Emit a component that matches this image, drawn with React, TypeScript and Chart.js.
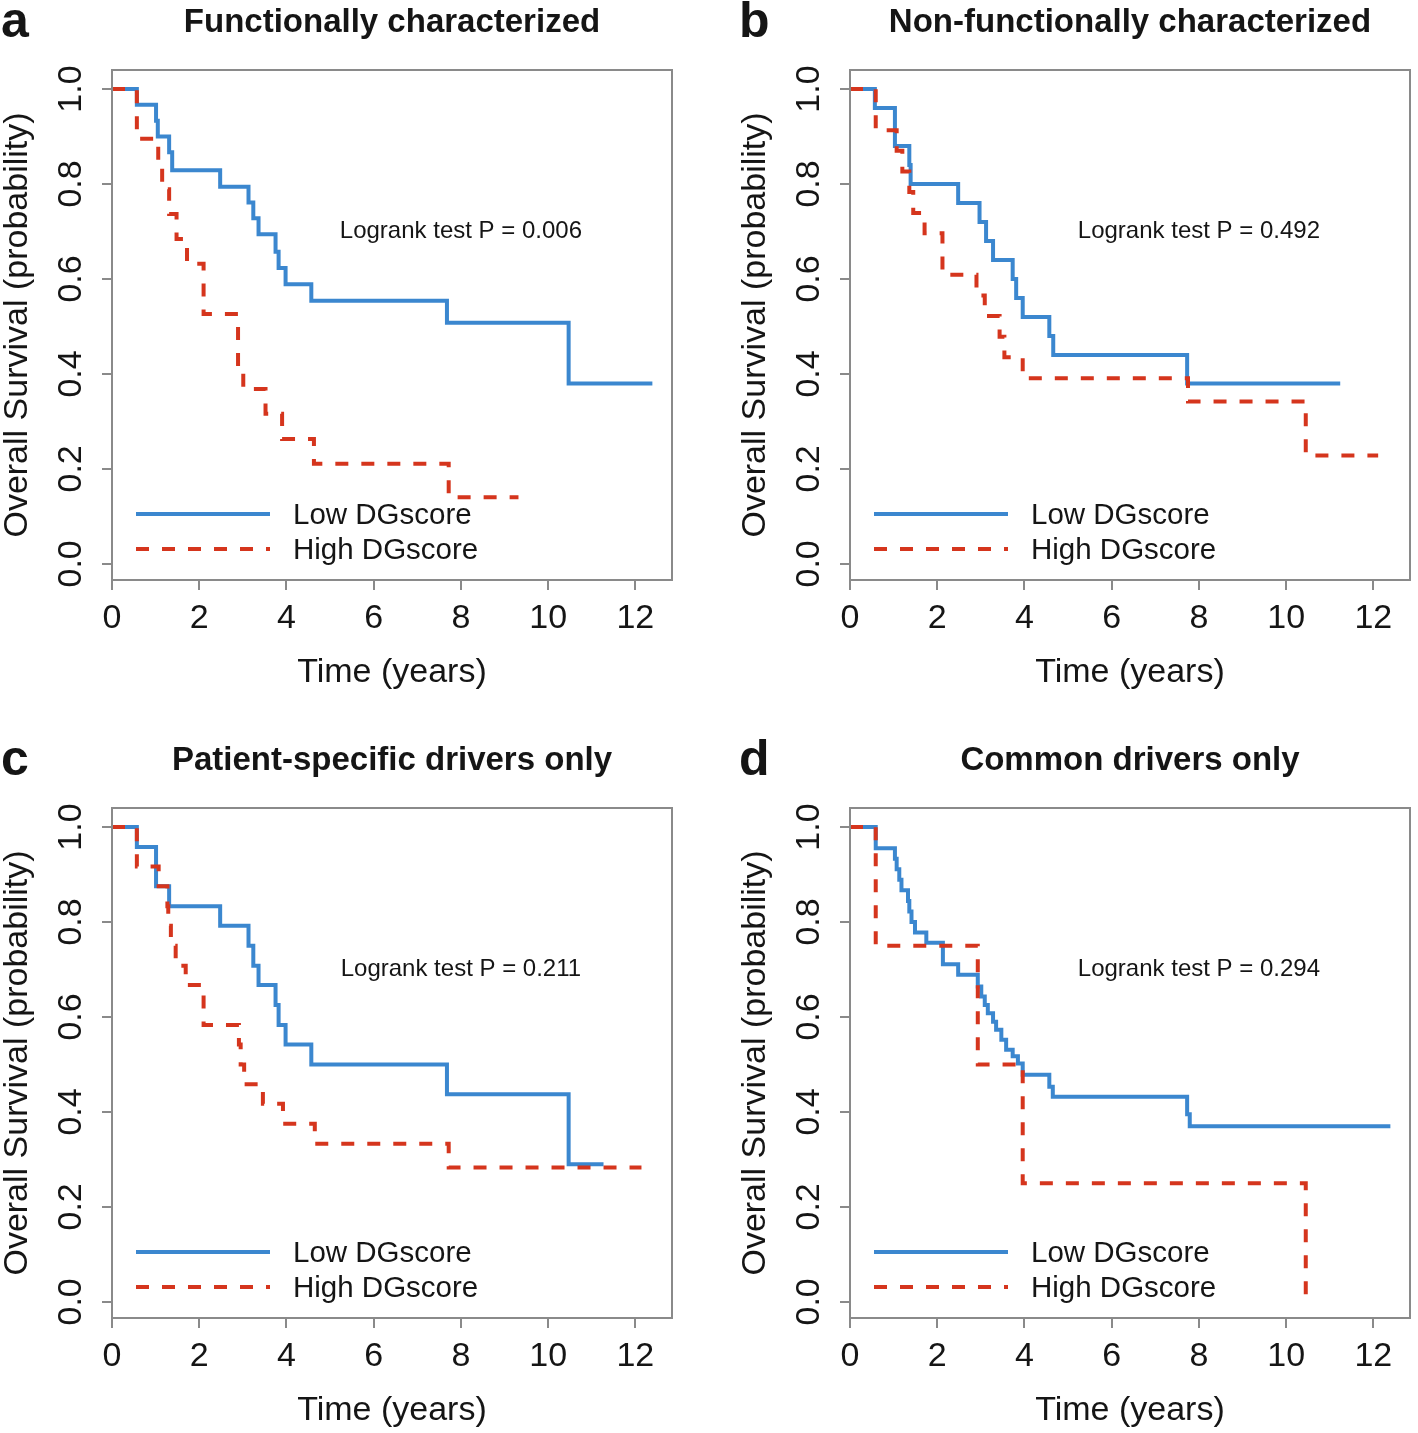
import React, { useEffect, useRef } from "react";
import { Chart, registerables } from "chart.js";

Chart.register(...registerables);

const FONT = "'Liberation Sans', Arial, Helvetica, sans-serif";
const BLUE = "#3b87cf";
const RED = "#d5351d";
const GREY = "#8a8a8a";
const INK = "#151515";

// ---- text ----
const SERIES_LABELS = ["Low DGscore", "High DGscore"];
const PANEL_LETTERS = ["a", "b", "c", "d"];
const PANEL_TITLES = [
  "Functionally characterized",
  "Non-functionally characterized",
  "Patient-specific drivers only",
  "Common drivers only",
];
const LOGRANK_TEXT = [
  "Logrank test P = 0.006",
  "Logrank test P = 0.492",
  "Logrank test P = 0.211",
  "Logrank test P = 0.294",
];
const LOGRANK_AT = [8, 0.7];
const X_TITLE = "Time (years)";
const Y_TITLE = "Overall Survival (probability)";
const X_TICK_STEP = 2;
const Y_TICK_STEP = 0.2;
const X_RANGE = [0, 12.84];
const Y_RANGE = [-0.034, 1.04];

// ---- panel a ----
const A_LOW_T = [0, 0.57, 1.01, 1.05, 1.31, 1.38, 2.48, 3.13, 3.24, 3.36, 3.75, 3.82, 3.98, 4.57, 7.68, 10.47, 12.39];
const A_LOW_S = [1, 0.967, 0.933, 0.9, 0.867, 0.829, 0.794, 0.761, 0.728, 0.694, 0.657, 0.623, 0.589, 0.554, 0.508, 0.38, 0.38];
const A_HIGH_T = [0, 0.57, 1.06, 1.15, 1.31, 1.48, 1.72, 2.1, 2.89, 3.01, 3.52, 3.9, 4.63, 7.72, 9.32];
const A_HIGH_S = [1, 0.895, 0.842, 0.789, 0.737, 0.684, 0.632, 0.526, 0.421, 0.368, 0.316, 0.263, 0.211, 0.14, 0.14];

// ---- panel b ----
const B_LOW_T = [0, 0.57, 1.03, 1.36, 1.39, 2.48, 2.97, 3.12, 3.28, 3.73, 3.81, 3.96, 4.57, 4.66, 7.73, 11.24];
const B_LOW_S = [1, 0.96, 0.88, 0.84, 0.8, 0.76, 0.72, 0.68, 0.64, 0.6, 0.56, 0.52, 0.48, 0.44, 0.38, 0.38];
const B_HIGH_T = [0, 0.59, 1.07, 1.2, 1.36, 1.45, 1.71, 2.12, 2.9, 3.09, 3.43, 3.54, 3.96, 7.75, 10.45, 12.11];
const B_HIGH_S = [1, 0.913, 0.87, 0.826, 0.783, 0.739, 0.696, 0.609, 0.565, 0.522, 0.478, 0.435, 0.391, 0.342, 0.228, 0.228];

// ---- panel c ----
const C_LOW_T = [0, 0.57, 1.01, 1.31, 2.48, 3.13, 3.24, 3.36, 3.75, 3.82, 3.98, 4.57, 7.68, 10.47, 11.27];
const C_LOW_S = [1, 0.958, 0.875, 0.833, 0.792, 0.75, 0.708, 0.667, 0.625, 0.583, 0.542, 0.5, 0.437, 0.29, 0.29];
const C_HIGH_T = [0, 0.57, 1.07, 1.27, 1.29, 1.35, 1.46, 1.69, 2.1, 2.91, 2.95, 3.03, 3.46, 3.92, 4.65, 7.72, 12.14];
const C_HIGH_S = [1, 0.917, 0.875, 0.833, 0.792, 0.75, 0.708, 0.667, 0.583, 0.542, 0.5, 0.458, 0.417, 0.375, 0.333, 0.283, 0.283];

// ---- panel d ----
const D_LOW_T = [0, 0.59, 1.03, 1.07, 1.13, 1.18, 1.33, 1.36, 1.41, 1.49, 1.75, 2.13, 2.48, 2.93, 3.01, 3.09, 3.16, 3.28, 3.35, 3.47, 3.58, 3.73, 3.85, 3.96, 4.57, 4.65, 7.73, 7.79, 12.39];
const D_LOW_S = [1, 0.955, 0.933, 0.911, 0.889, 0.867, 0.844, 0.822, 0.8, 0.778, 0.756, 0.711, 0.689, 0.664, 0.643, 0.625, 0.608, 0.59, 0.573, 0.552, 0.531, 0.517, 0.502, 0.478, 0.453, 0.432, 0.395, 0.37, 0.37];
const D_HIGH_T = [0, 0.59, 2.93, 3.96, 10.45];
const D_HIGH_S = [1, 0.75, 0.5, 0.25, 0];

const SERIES = [
  [A_LOW_T, A_LOW_S, A_HIGH_T, A_HIGH_S],
  [B_LOW_T, B_LOW_S, B_HIGH_T, B_HIGH_S],
  [C_LOW_T, C_LOW_S, C_HIGH_T, C_HIGH_S],
  [D_LOW_T, D_LOW_S, D_HIGH_T, D_HIGH_S],
];

const toPoints = (t: number[], s: number[]) => t.map((x, i) => ({ x, y: s[i] }));

const boxPlugin = {
  id: "rbox",
  afterDatasetsDraw(chart: any) {
    const { ctx, chartArea: a } = chart;
    ctx.save();
    ctx.strokeStyle = GREY;
    ctx.lineWidth = 2;
    ctx.strokeRect(a.left, a.top, a.right - a.left, a.bottom - a.top);
    ctx.restore();
  },
};

const annoPlugin = {
  id: "kmAnno",
  afterDraw(chart: any, _args: any, opts: any) {
    const { ctx, chartArea: a, scales } = chart;
    ctx.save();
    ctx.fillStyle = INK;
    // panel letter
    ctx.font = `bold 50px ${FONT}`;
    ctx.textAlign = "left";
    ctx.textBaseline = "alphabetic";
    ctx.fillText(opts.letter, 1, 37);
    // logrank annotation at data coordinates
    ctx.font = `24px ${FONT}`;
    ctx.textAlign = "center";
    ctx.textBaseline = "middle";
    ctx.fillText(
      opts.logrank,
      scales.x.getPixelForValue(opts.at[0]),
      scales.y.getPixelForValue(opts.at[1])
    );
    // legend (bottom-left inside plot)
    const rows = [66, 31];
    const ds = chart.data.datasets;
    ds.forEach((d: any, i: number) => {
      const y = a.bottom - rows[i];
      ctx.save();
      ctx.strokeStyle = d.borderColor;
      ctx.lineWidth = d.borderWidth;
      ctx.setLineDash(d.borderDash || []);
      ctx.lineDashOffset = 0;
      ctx.beginPath();
      ctx.moveTo(a.left + 24, y);
      ctx.lineTo(a.left + 158, y);
      ctx.stroke();
      ctx.restore();
      ctx.font = `29.5px ${FONT}`;
      ctx.textAlign = "left";
      ctx.textBaseline = "middle";
      ctx.fillStyle = INK;
      ctx.fillText(d.label, a.left + 181, y + 2);
    });
    ctx.restore();
  },
};

function Panel({ idx, left, top, width, height }: { idx: number; left: number; top: number; width: number; height: number }) {
  const ref = useRef<HTMLCanvasElement>(null);
  useEffect(() => {
    const [lt, ls, ht, hs] = SERIES[idx];
    const tickFont = { family: FONT, size: 34, lineHeight: 1 };
    const chart = new Chart(ref.current as HTMLCanvasElement, {
      type: "line",
      data: {
        datasets: [
          {
            label: SERIES_LABELS[0],
            data: toPoints(lt, ls),
            borderColor: BLUE,
            borderWidth: 4,
            stepped: "before",
            pointRadius: 0,
            fill: false,
            order: 1,
          },
          {
            label: SERIES_LABELS[1],
            data: toPoints(ht, hs),
            borderColor: RED,
            borderWidth: 4,
            borderDash: [13, 13],
            stepped: "before",
            pointRadius: 0,
            fill: false,
            order: 0,
          },
        ],
      } as any,
      options: {
        animation: false,
        responsive: false,
        devicePixelRatio: 1,
        events: [],
        layout: { padding: { left: 0, top: 0, right: width - 672, bottom: 0 }, autoPadding: false },
        plugins: {
          legend: { display: false },
          tooltip: { enabled: false },
          title: {
            display: true,
            text: PANEL_TITLES[idx],
            fullSize: false,
            color: INK,
            font: { family: FONT, size: 33, weight: "bold", lineHeight: 1.2 },
            padding: { top: 3, bottom: 27.4 },
          },
          kmAnno: { letter: PANEL_LETTERS[idx], logrank: LOGRANK_TEXT[idx], at: LOGRANK_AT },
        } as any,
        scales: {
          x: {
            type: "linear",
            min: X_RANGE[0],
            max: X_RANGE[1],
            afterFit(s: any) {
              s.height = height - 580;
              s.paddingLeft = 0;
              s.paddingRight = 0;
            },
            ticks: {
              stepSize: X_TICK_STEP,
              includeBounds: false,
              autoSkip: false,
              maxRotation: 0,
              minRotation: 0,
              padding: 12,
              color: INK,
              font: tickFont,
            },
            grid: { drawOnChartArea: false, drawTicks: true, tickLength: 10, color: GREY, lineWidth: 2 },
            border: { display: false },
            title: { display: true, text: X_TITLE, color: INK, font: tickFont, padding: { top: 0, bottom: 5 } },
          },
          y: {
            type: "linear",
            min: Y_RANGE[0],
            max: Y_RANGE[1],
            afterFit(s: any) {
              s.width = 112;
              s.paddingTop = 0;
              s.paddingBottom = 0;
            },
            ticks: {
              stepSize: Y_TICK_STEP,
              includeBounds: false,
              autoSkip: false,
              minRotation: 90,
              maxRotation: 90,
              crossAlign: "center",
              padding: 6.5,
              color: INK,
              font: tickFont,
              callback: (v: any) => Number(v).toFixed(1),
            },
            grid: { drawOnChartArea: false, drawTicks: true, tickLength: 10, color: GREY, lineWidth: 2 },
            border: { display: false },
            title: { display: true, text: Y_TITLE, color: INK, font: tickFont, padding: { top: 1, bottom: 0 } },
          },
        },
      } as any,
      plugins: [boxPlugin, annoPlugin],
    });
    return () => chart.destroy();
  }, [idx, width, height]);
  return (
    <canvas
      ref={ref}
      width={width}
      height={height}
      style={{ position: "absolute", left, top, width, height, display: "block" }}
    />
  );
}

export default function App() {
  return (
    <div style={{ position: "absolute", left: 0, top: 0, width: 1418, height: 1433, background: "#fff", overflow: "hidden" }}>
      <Panel idx={0} left={0} top={0} width={738} height={695} />
      <Panel idx={1} left={738} top={0} width={680} height={695} />
      <Panel idx={2} left={0} top={738} width={738} height={695} />
      <Panel idx={3} left={738} top={738} width={680} height={695} />
    </div>
  );
}
